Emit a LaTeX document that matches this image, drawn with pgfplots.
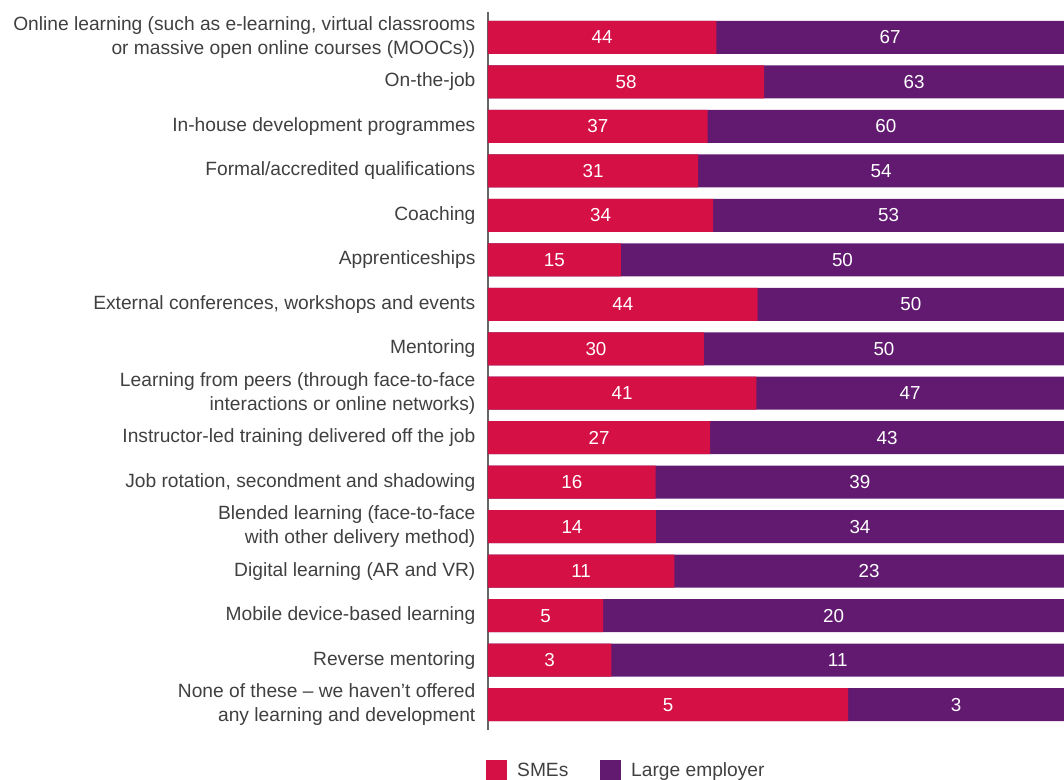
\documentclass[border=0pt]{standalone}
\usepackage{pgfplots}
\pgfplotsset{compat=1.18}
\usepackage{pgfplotstable}
\usepackage{fontspec}
\setmainfont{Liberation Sans}
\definecolor{smered}{HTML}{D51045}
\definecolor{largepurple}{HTML}{621A71}
\definecolor{labelgray}{HTML}{404040}
\pgfplotstableread{
y s l
0 44 67
1 58 63
2 37 60
3 31 54
4 34 53
5 15 50
6 44 50
7 30 50
8 41 47
9 27 43
10 16 39
11 14 34
12 11 23
13 5 20
14 3 11
15 5 3
}\data
\begin{document}
\begin{tikzpicture}
\begin{axis}[
  name=ax,
  scale only axis,
  width=288pt, height=359pt,
  xmin=0, xmax=100,
  ymin=-0.57, ymax=15.57,
  y dir=reverse,
  axis x line=none,
  axis y line=left,
  axis line style={-, draw=black!60, line width=1pt},
  xbar, bar width=16.5pt, bar shift=0pt,
  ytick={0,...,15},
  ytick style={draw=none},
  yticklabel style={align=right, font=\fontsize{9.6}{12}\selectfont, text=labelgray, xshift=1.5pt},
  yticklabels={
    {Online learning (such as e-learning, virtual classrooms\\or massive open online courses (MOOCs))},
    {On-the-job},
    {In-house development programmes},
    {Formal/accredited qualifications},
    {Coaching},
    {Apprenticeships},
    {External conferences, workshops and events},
    {Mentoring},
    {Learning from peers (through face-to-face\\interactions or online networks)},
    {Instructor-led training delivered off the job},
    {Job rotation, secondment and shadowing},
    {Blended learning (face-to-face\\with other delivery method)},
    {Digital learning (AR and VR)},
    {Mobile device-based learning},
    {Reverse mentoring},
    {None of these – we haven’t offered\\any learning and development}
  },
  legend columns=2,
  legend style={draw=none, fill=none, at={(0,0)}, anchor=north west, yshift=-12pt, xshift=-4pt,
    font=\fontsize{9.6}{10}\selectfont, text=labelgray,
    /tikz/every odd column/.append style={column sep=3pt},
    /tikz/every even column/.append style={column sep=14pt}},
  legend image code/.code={\fill[#1] (0pt,-5pt) rectangle (10pt,5pt);},
]
\addlegendimage{smered}
\addlegendentry{SMEs}
\addlegendimage{largepurple}
\addlegendentry{Large employer}
\addplot[fill=largepurple, draw=none, forget plot] table[x expr=100, y=y] {\data};
\addplot[fill=smered, draw=none, forget plot] table[x expr=\thisrow{s}/(\thisrow{s}+\thisrow{l})*100, y=y] {\data};
\addplot[only marks, mark=none, forget plot, point meta=explicit symbolic,
  nodes near coords, nodes near coords style={anchor=center, text=white, font=\fontsize{9.4}{10}\selectfont}]
  table[x expr=\thisrow{s}/(\thisrow{s}+\thisrow{l})*50, y=y, meta=s] {\data};
\addplot[only marks, mark=none, forget plot, point meta=explicit symbolic,
  nodes near coords, nodes near coords style={anchor=center, text=white, font=\fontsize{9.4}{10}\selectfont}]
  table[x expr=50+\thisrow{s}/(\thisrow{s}+\thisrow{l})*50, y=y, meta=l] {\data};
\end{axis}
\pgfresetboundingbox
\path[use as bounding box] ([shift={(-244pt,-25pt)}]ax.south west) rectangle ([shift={(0pt,6pt)}]ax.north east);
\end{tikzpicture}
\end{document}
